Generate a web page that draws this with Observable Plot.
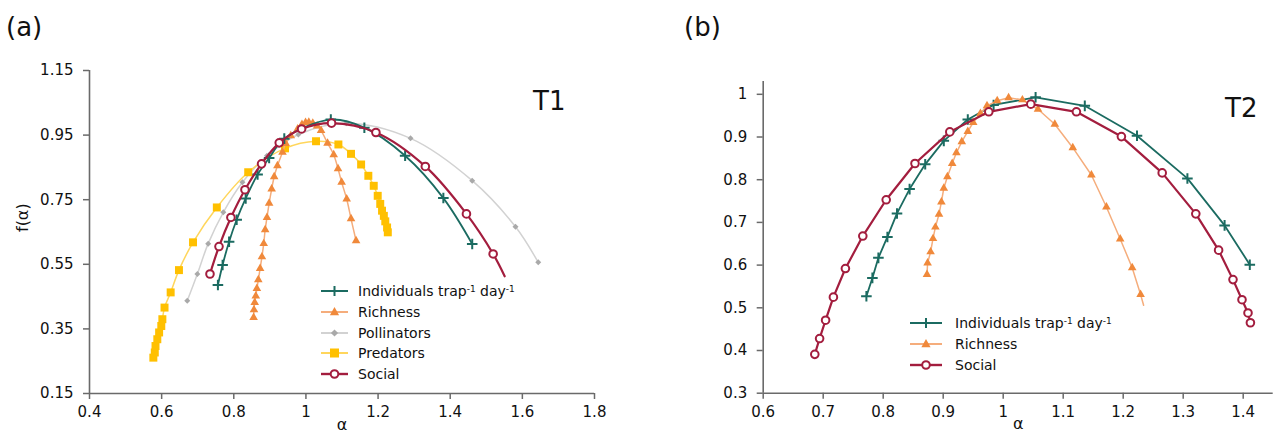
<!DOCTYPE html>
<html>
<head>
<meta charset="utf-8">
<script src="https://cdn.jsdelivr.net/npm/d3@7"></script>
<script src="https://cdn.jsdelivr.net/npm/@observablehq/plot@0.6"></script>
<style>
  body { margin: 0; background: #fff; }
  #wrap { position: relative; width: 1274px; height: 436px; overflow: hidden; font-family: "DejaVu Sans", sans-serif; color: #111; background: #fff; }
  .panel { position: absolute; top: 0; }
  .tag { position: absolute; font-size: 26px; line-height: 1; white-space: nowrap; }
  .legend { position: absolute; font-size: 14px; color: #111; }
  .legend .row { display: flex; align-items: center; height: 20.7px; line-height: 1; white-space: nowrap; }
  .legend svg { display: block; flex: none; }
  .legend sup { font-size: 9px; vertical-align: 0.45em; line-height: 0; }
</style>
</head>
<body>
<div id="wrap">
  <div id="panelA" class="panel" style="left:0px"></div>
  <div id="panelB" class="panel" style="left:640px"></div>
  <div class="tag" style="left:6px; top:14px">(a)</div>
  <div class="tag" style="left:684px; top:14px">(b)</div>
  <div class="tag" style="left:533px; top:88px">T1</div>
  <div class="tag" style="left:1225px; top:95px">T2</div>
  <div id="legendA" class="legend" style="left:321px; top:281px"></div>
  <div id="legendB" class="legend" style="left:910px; top:313px"></div>
</div>
<script>
// ---------- Panel (a) T1 data ----------
const xTicksA = [0.4, 0.6, 0.8, 1.0, 1.2, 1.4, 1.6, 1.8];
const yTicksA = [0.15, 0.35, 0.55, 0.75, 0.95, 1.15];

const indA_alpha = [0.756, 0.769, 0.787, 0.808, 0.833, 0.866, 0.898, 0.940, 1.069, 1.162, 1.275, 1.381, 1.461];
const indA_f     = [0.486, 0.548, 0.620, 0.688, 0.754, 0.828, 0.879, 0.939, 0.998, 0.973, 0.886, 0.755, 0.613];

const richA_alpha = [0.855, 0.856, 0.858, 0.861, 0.864, 0.868, 0.873, 0.878, 0.883, 0.887, 0.892, 0.898, 0.905, 0.912, 0.921, 0.935, 0.944, 0.958, 0.977, 0.989, 0.999, 1.008, 1.019, 1.031, 1.042, 1.060, 1.077, 1.089, 1.099, 1.113, 1.125, 1.139];
const richA_f     = [0.385, 0.409, 0.432, 0.452, 0.475, 0.502, 0.537, 0.573, 0.614, 0.657, 0.695, 0.739, 0.783, 0.821, 0.855, 0.897, 0.924, 0.948, 0.969, 0.983, 0.989, 0.990, 0.987, 0.978, 0.964, 0.925, 0.889, 0.846, 0.804, 0.752, 0.691, 0.623];

const pollA_alpha = [0.671, 0.699, 0.729, 0.771, 0.824, 0.892, 0.979, 1.112, 1.290, 1.461, 1.581, 1.644];
const pollA_f     = [0.437, 0.520, 0.614, 0.711, 0.804, 0.886, 0.952, 0.987, 0.940, 0.809, 0.666, 0.556];

const predA_alpha = [0.577, 0.581, 0.583, 0.588, 0.593, 0.599, 0.602, 0.608, 0.625, 0.648, 0.687, 0.753, 0.840, 0.942, 1.028, 1.090, 1.125, 1.153, 1.173, 1.188, 1.199, 1.206, 1.211, 1.216, 1.220, 1.225, 1.227];
const predA_f     = [0.261, 0.277, 0.297, 0.318, 0.339, 0.359, 0.380, 0.416, 0.463, 0.532, 0.618, 0.726, 0.835, 0.909, 0.931, 0.921, 0.892, 0.859, 0.824, 0.793, 0.762, 0.737, 0.716, 0.700, 0.683, 0.664, 0.649];

const socA_alpha = [0.734, 0.759, 0.792, 0.831, 0.877, 0.926, 0.988, 1.071, 1.194, 1.331, 1.445, 1.519];
const socA_f     = [0.520, 0.605, 0.695, 0.781, 0.861, 0.926, 0.969, 0.987, 0.958, 0.853, 0.706, 0.582];
const socA_tail  = [1.551, 0.513]; // line continues past last marker

// ---------- Panel (b) T2 data ----------
const xTicksB = [0.6, 0.7, 0.8, 0.9, 1.0, 1.1, 1.2, 1.3, 1.4];
const yTicksB = [0.3, 0.4, 0.5, 0.6, 0.7, 0.8, 0.9, 1.0];

const indB_alpha = [0.772, 0.782, 0.792, 0.807, 0.823, 0.844, 0.870, 0.901, 0.941, 0.984, 1.054, 1.136, 1.223, 1.307, 1.369, 1.411];
const indB_f     = [0.527, 0.570, 0.617, 0.666, 0.721, 0.778, 0.836, 0.891, 0.941, 0.975, 0.993, 0.973, 0.903, 0.803, 0.693, 0.601];

const richB_alpha = [0.873, 0.874, 0.879, 0.883, 0.887, 0.893, 0.897, 0.901, 0.907, 0.915, 0.922, 0.931, 0.941, 0.950, 0.962, 0.973, 0.990, 1.009, 1.032, 1.058, 1.086, 1.116, 1.147, 1.172, 1.195, 1.215, 1.229];
const richB_f     = [0.578, 0.605, 0.631, 0.662, 0.689, 0.719, 0.748, 0.780, 0.807, 0.838, 0.863, 0.889, 0.913, 0.934, 0.955, 0.973, 0.985, 0.992, 0.987, 0.965, 0.930, 0.875, 0.811, 0.736, 0.661, 0.594, 0.531];
const richB_tail  = [1.234, 0.506];

const socB_alpha = [0.686, 0.694, 0.704, 0.717, 0.737, 0.766, 0.805, 0.853, 0.911, 0.976, 1.046, 1.122, 1.197, 1.265, 1.321, 1.359, 1.383, 1.398, 1.408, 1.412];
const socB_f     = [0.391, 0.428, 0.471, 0.525, 0.592, 0.668, 0.753, 0.838, 0.912, 0.959, 0.977, 0.959, 0.901, 0.816, 0.720, 0.635, 0.566, 0.519, 0.488, 0.465];

// ---------- styling ----------
const C = {
  ind:  { line: "#1b6b61", mark: "#1b6b61" },
  rich: { line: "#f5ad7c", mark: "#f0893b" },
  poll: { line: "#d2d2d2", mark: "#a9a9a9" },
  pred: { line: "#ffd65c", mark: "#ffc000" },
  soc:  { line: "#a31d3e", mark: "#a31d3e" }
};
const AXIS = "#6a6a6a";
const fmt = d => String(+d.toFixed(2));
const rows = (xs, ys) => xs.map((a, i) => ({ a, f: ys[i] }));

function series(pts, linePts, kind, curve) {
  const c = C[kind];
  const lw = kind === "soc" ? 2.2 : kind === "ind" ? 1.8 : 1.5;
  const out = [Plot.line(linePts, { x: "a", y: "f", stroke: c.line, strokeWidth: lw, curve })];
  if (kind === "ind") out.push(Plot.dot(pts, { x: "a", y: "f", symbol: "plus", r: 3.5, stroke: c.mark, strokeWidth: 2 }));
  if (kind === "rich") out.push(Plot.dot(pts, { x: "a", y: "f", symbol: "triangle", r: 3.2, fill: c.mark, stroke: "none" }));
  if (kind === "poll") out.push(Plot.dot(pts, { x: "a", y: "f", symbol: "diamond2", r: 2.7, fill: c.mark, stroke: "none" }));
  if (kind === "pred") out.push(Plot.dot(pts, { x: "a", y: "f", symbol: "square", r: 4.5, fill: c.mark, stroke: "none" }));
  if (kind === "soc") out.push(Plot.dot(pts, { x: "a", y: "f", symbol: "circle", r: 3.8, fill: "white", stroke: c.mark, strokeWidth: 2 }));
  return out;
}

function axes(xTicks, yTicks, yLabel) {
  const m = [
    Plot.ruleX([xTicks[0]], { stroke: AXIS, strokeWidth: 1.6 }),
    Plot.ruleY([yTicks[0]], { stroke: AXIS, strokeWidth: 1.6 }),
    Plot.axisX(xTicks, { tickSize: 6, tickPadding: 7, stroke: AXIS, strokeWidth: 1.5, tickFormat: fmt,
      fontSize: 15, fill: "#111", label: null }),
    Plot.axisY(yTicks, { tickSize: 6, tickPadding: 10, stroke: AXIS, strokeWidth: 1.5, tickFormat: fmt,
      fontSize: 15, fill: "#111", label: null }),
    Plot.text(["α"], { frameAnchor: "bottom", dy: 31, fontSize: 16, fill: "#111", lineAnchor: "middle" })
  ];
  if (yLabel) m.push(Plot.text([yLabel], { frameAnchor: "left", dx: -67, rotate: -90, fontSize: 16, fill: "#111", lineAnchor: "middle" }));
  return m;
}

const style = { fontFamily: "DejaVu Sans, sans-serif", fontSize: "15px", color: "#111", background: "transparent", overflow: "visible" };

// Panel (a)
const socAline = rows(socA_alpha, socA_f).concat([{ a: socA_tail[0], f: socA_tail[1] }]);
const plotA = Plot.plot({
  width: 640, height: 436,
  marginLeft: 89, marginRight: 46, marginTop: 70, marginBottom: 43,
  x: { domain: [xTicksA[0], xTicksA[xTicksA.length - 1]] },
  y: { domain: [yTicksA[0], yTicksA[yTicksA.length - 1]] },
  style,
  marks: [
    ...axes(xTicksA, yTicksA, "f(α)"),
    ...series(rows(pollA_alpha, pollA_f), rows(pollA_alpha, pollA_f), "poll", "catmull-rom"),
    ...series(rows(predA_alpha, predA_f), rows(predA_alpha, predA_f), "pred", "catmull-rom"),
    ...series(rows(richA_alpha, richA_f), rows(richA_alpha, richA_f), "rich", "catmull-rom"),
    ...series(rows(indA_alpha, indA_f), rows(indA_alpha, indA_f), "ind", "catmull-rom"),
    ...series(rows(socA_alpha, socA_f), socAline, "soc", "catmull-rom")
  ]
});
document.getElementById("panelA").appendChild(plotA);

// Panel (b)
const richBline = rows(richB_alpha, richB_f).concat([{ a: richB_tail[0], f: richB_tail[1] }]);
const plotB = Plot.plot({
  width: 634, height: 436,
  marginLeft: 122.7, marginRight: 1.3, marginTop: 81, marginBottom: 43.3,
  x: { domain: [xTicksB[0], 1.45] },
  y: { domain: [yTicksB[0], 1.03] },
  style,
  marks: [
    ...axes(xTicksB, yTicksB, null),
    ...series(rows(indB_alpha, indB_f), rows(indB_alpha, indB_f), "ind", "linear"),
    ...series(rows(richB_alpha, richB_f), richBline, "rich", "linear"),
    ...series(rows(socB_alpha, socB_f), rows(socB_alpha, socB_f), "soc", "linear")
  ]
});
document.getElementById("panelB").appendChild(plotB);

// ---------- legends ----------
const symbolPaths = {
  ind:  '<path d="M0,-5V5M-5,0H5" fill="none" stroke-width="2"/>',
  rich: '<path d="M0,-5L4.6,3.2H-4.6Z" stroke="none"/>',
  poll: '<path d="M0,-3.6L3.6,0L0,3.6L-3.6,0Z" stroke="none"/>',
  pred: '<rect x="-4.5" y="-4.5" width="9" height="9" stroke="none"/>',
  soc:  '<circle r="3.8" fill="white" stroke-width="2"/>'
};
const labels = {
  ind: 'Individuals trap<sup>-1</sup> day<sup>-1</sup>',
  rich: 'Richness', poll: 'Pollinators', pred: 'Predators', soc: 'Social'
};
function legend(el, kinds, sw, gap) {
  el.innerHTML = kinds.map(k => {
    const c = C[k];
    const lw = k === "soc" ? 2.4 : 2;
    return `<div class="row"><svg width="${sw}" height="14" style="margin-right:${gap}px">
      <line x1="0" x2="${sw}" y1="7" y2="7" stroke="${c.line}" stroke-width="${lw}"/>
      <g transform="translate(${sw / 2},7)" fill="${c.mark}" stroke="${c.mark}">${symbolPaths[k]}</g>
    </svg><span>${labels[k]}</span></div>`;
  }).join("");
}
legend(document.getElementById("legendA"), ["ind", "rich", "poll", "pred", "soc"], 27, 10);
legend(document.getElementById("legendB"), ["ind", "rich", "soc"], 32, 13);
</script>
</body>
</html>
